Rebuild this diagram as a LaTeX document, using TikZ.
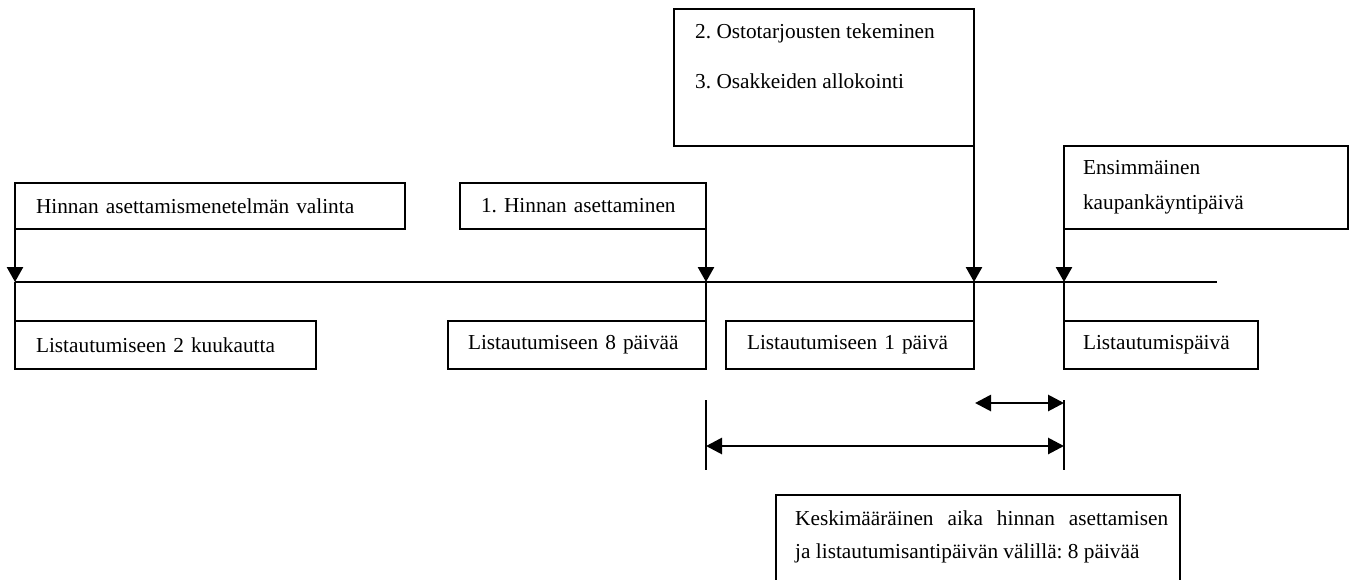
\documentclass[tikz,border=0pt]{standalone}
\usepackage{fontspec}
\setmainfont{Liberation Serif}
\usetikzlibrary{arrows.meta}
\frenchspacing
\begin{document}
\begin{tikzpicture}[x=1pt,y=-1pt,
  font=\fontsize{21.3}{25}\selectfont,
  bx/.style={draw, line width=2pt, anchor=north west, inner ysep=0pt, outer sep=0pt, align=left},
  frame/.style={draw, line width=2pt, anchor=north west, inner sep=0pt, outer sep=0pt},
  lbl/.style={anchor=base west, inner sep=0pt},
  arr/.style={line width=2.6pt, -{Triangle[width=16pt,length=15pt]}},
  ln/.style={line width=2.3pt},
  tl/.style={line width=1.4pt},
  dbl/.style={line width=2.8pt, {Triangle[width=16pt,length=16pt]}-{Triangle[width=16pt,length=16pt]}}]
\useasboundingbox (0,0) rectangle (1356,579);
\clip (0,0) rectangle (1356,579);

% boxes above the timeline
\node[bx, inner xsep=21pt, text width=348pt, minimum height=46pt] (A) at (15,183) {Hinnan asettamismenetelmän valinta};
\node[bx, inner xsep=21pt, text width=204pt, minimum height=46pt] (B) at (460,183) {1. Hinnan asettaminen};
\node[frame, minimum width=300pt, minimum height=137pt] (C) at (674,9) {};
\node[lbl] (C1) at (695,38) {2. Ostotarjousten tekeminen};
\node[lbl] (C2t) at (695,88) {3. Osakkeiden allokointi};
\node[bx, inner xsep=19pt, text width=246pt, minimum height=83pt, font=\fontsize{21.3}{35}\selectfont] (D) at (1064,146) {Ensimmäinen\\kaupankäyntipäivä};

% boxes below the timeline
\node[bx, inner xsep=21pt, text width=259pt, minimum height=48pt] (A2) at (15,321) {Listautumiseen 2 kuukautta};
\node[bx, inner xsep=20pt, text width=218pt, minimum height=48pt] (B2) at (448,321) {Listautumiseen 8 päivää};
\node[bx, inner xsep=21pt, text width=206pt, minimum height=48pt] (C2) at (726,321) {Listautumiseen 1 päivä};
\node[bx, inner xsep=19pt, text width=156pt, minimum height=48pt] (D2) at (1064,321) {Listautumispäivä};

% timeline
\coordinate (T0) at (15,282);
\coordinate (T1) at (1217,282);
\draw[tl] (T0) -- (T1);
\coordinate (pA) at (15,282);
\coordinate (pB) at (706,282);
\coordinate (pC) at (974,282);
\coordinate (pD) at (1064,282);

\draw[arr] (A.south west) -- (pA);
\draw[ln] (pA) -- (A2.north west);
\draw[arr] (B.south east) -- (pB);
\draw[ln] (pB) -- (B2.north east);
\draw[arr] (C.south east) -- (pC);
\draw[ln] (pC) -- (C2.north east);
\draw[arr] (D.south west) -- (pD);
\draw[ln] (pD) -- (D2.north west);

% interval bars and arrows
\coordinate (L1) at (706,400);
\coordinate (L2) at (706,470);
\coordinate (R1) at (1064,400);
\coordinate (R2) at (1064,470);
\draw[ln] (L1) -- (L2);
\draw[ln] (R1) -- (R2);
\coordinate (la) at (706,446);
\coordinate (ra) at (1064,446);
\coordinate (sa) at (975,403);
\coordinate (sb) at (1064,403);
\draw[dbl] (la) -- (ra);
\draw[dbl] (sa) -- (sb);

% bottom note
\node[frame, minimum width=404pt, minimum height=120pt] (E) at (776,495) {};
\node[lbl] (E1) at (795,525) {\makebox[373pt][s]{Keskimääräinen aika hinnan asettamisen}};
\node[lbl] (E2) at (795,558) {ja listautumisantipäivän välillä: 8 päivää};
\end{tikzpicture}
\end{document}
